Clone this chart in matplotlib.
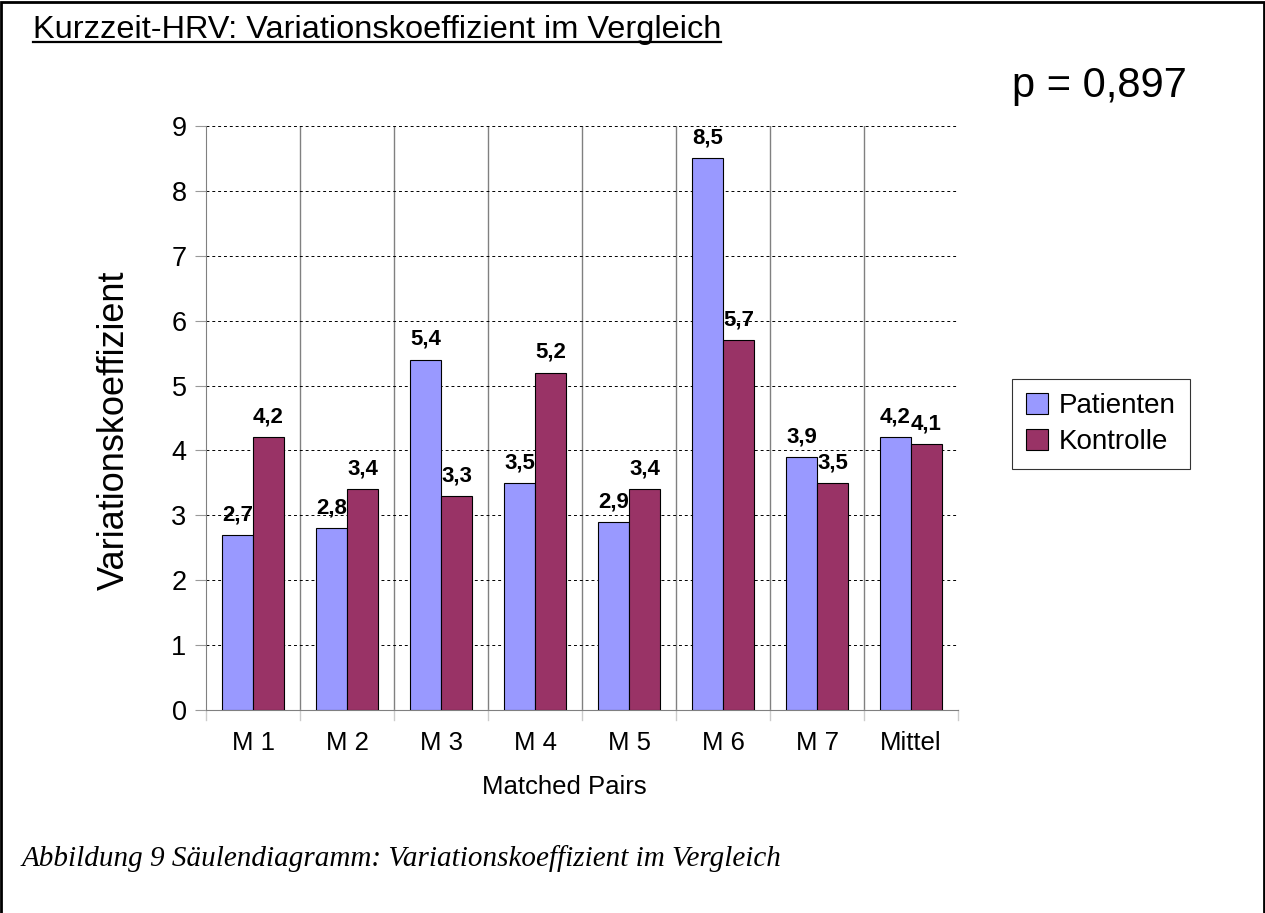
import numpy as np
import matplotlib
matplotlib.use('Agg')
import matplotlib.pyplot as plt
from matplotlib.patches import Rectangle
from matplotlib.lines import Line2D

# data
groups = ['M 1', 'M 2', 'M 3', 'M 4', 'M 5', 'M 6', 'M 7', 'Mittel']
patienten = [2.7, 2.8, 5.4, 3.5, 2.9, 8.5, 3.9, 4.2]
kontrolle = [4.2, 3.4, 3.3, 5.2, 3.4, 5.7, 3.5, 4.1]
series_names = ['Patienten', 'Kontrolle']
colors = ['#9999ff', '#993366']

plt.rcParams['font.family'] = ['Liberation Sans', 'DejaVu Sans']

fig = plt.figure(figsize=(12.65, 9.13), dpi=100)
ax = fig.add_axes([206 / 1265, 1 - 710 / 913, (958 - 206) / 1265, (710 - 126) / 913])

x = np.arange(len(groups))
w = 0.33
b1 = ax.bar(x - w / 2, patienten, w, color=colors[0], edgecolor='black', linewidth=0.8,
            label=series_names[0], zorder=3)
b2 = ax.bar(x + w / 2, kontrolle, w, color=colors[1], edgecolor='black', linewidth=0.8,
            label=series_names[1], zorder=3)

for bars, vals in [(b1, patienten), (b2, kontrolle)]:
    for bar, v in zip(bars, vals):
        ax.annotate(f'{v:.1f}'.replace('.', ','), (bar.get_x() + bar.get_width() / 2, v),
                    xytext=(0, 7), textcoords='offset points', ha='center', va='bottom',
                    fontsize=16, fontweight='bold', zorder=4)

ax.set_xlim(-0.5, len(groups) - 0.5)
ax.set_ylim(0, 9)
ax.set_yticks(range(10))
ax.set_xticks(x)
ax.set_xticklabels(groups)
ax.tick_params(axis='y', labelsize=19.5, length=8, color='#999999', pad=6)
ax.tick_params(axis='x', labelsize=18.5, length=0, pad=15)

# group separators and dashed horizontal grid
for i in range(1, len(groups)):
    ax.axvline(i - 0.5, color='#808080', linewidth=1, zorder=1)
for yv in range(1, 10):
    ax.axhline(yv, color='black', linestyle=(0, (3, 3)), linewidth=0.7, zorder=1)
for i in range(len(groups) + 1):
    ax.plot([i - 0.5, i - 0.5], [0, -0.16], color='#cccccc', linewidth=1, clip_on=False)

for side in ['left', 'bottom']:
    ax.spines[side].set_color('#808080')
ax.spines['top'].set_visible(False)
ax.spines['right'].set_visible(False)

ax.set_ylabel('Variationskoeffizient', fontsize=26)
ax.yaxis.set_label_coords(-0.099, 0.479)
ax.set_xlabel('Matched Pairs', fontsize=18.5)
ax.xaxis.set_label_coords(0.477, -0.112)

leg = fig.legend(loc='upper left', bbox_to_anchor=(1012 / 1265, 1 - 379 / 913), fontsize=20,
                 frameon=True, fancybox=False, edgecolor='black', handlelength=0.8,
                 handleheight=0.8, handletextpad=0.4, borderpad=0.5, labelspacing=0.35,
                 borderaxespad=0)
leg.get_frame().set_linewidth(0.8)

title = fig.text(33 / 1265, 1 - 38 / 913, 'Kurzzeit-HRV: Variationskoeffizient im Vergleich',
                 fontsize=23.4, ha='left', va='baseline')
fig.text(1187 / 1265, 1 - 97 / 913, 'p = 0,897', fontsize=30, ha='right', va='baseline')
fig.text(22 / 1265, 1 - 866 / 913, 'Abbildung 9 Säulendiagramm: Variationskoeffizient im Vergleich',
         fontsize=21, style='italic', family=['Liberation Serif', 'DejaVu Serif'],
         ha='left', va='baseline')

# underline the title
fig.canvas.draw()
bb = title.get_window_extent().transformed(fig.transFigure.inverted())
fig.add_artist(Line2D([bb.x0, bb.x1], [1 - 42.5 / 913, 1 - 42.5 / 913], color='black',
                      linewidth=1.6, transform=fig.transFigure))

# outer frame
fig.add_artist(Rectangle((0.001, -0.01), 0.998, 1.008, transform=fig.transFigure,
                         fill=False, edgecolor='black', linewidth=2))

fig.savefig('out.png', dpi=100)
plt.close(fig)
